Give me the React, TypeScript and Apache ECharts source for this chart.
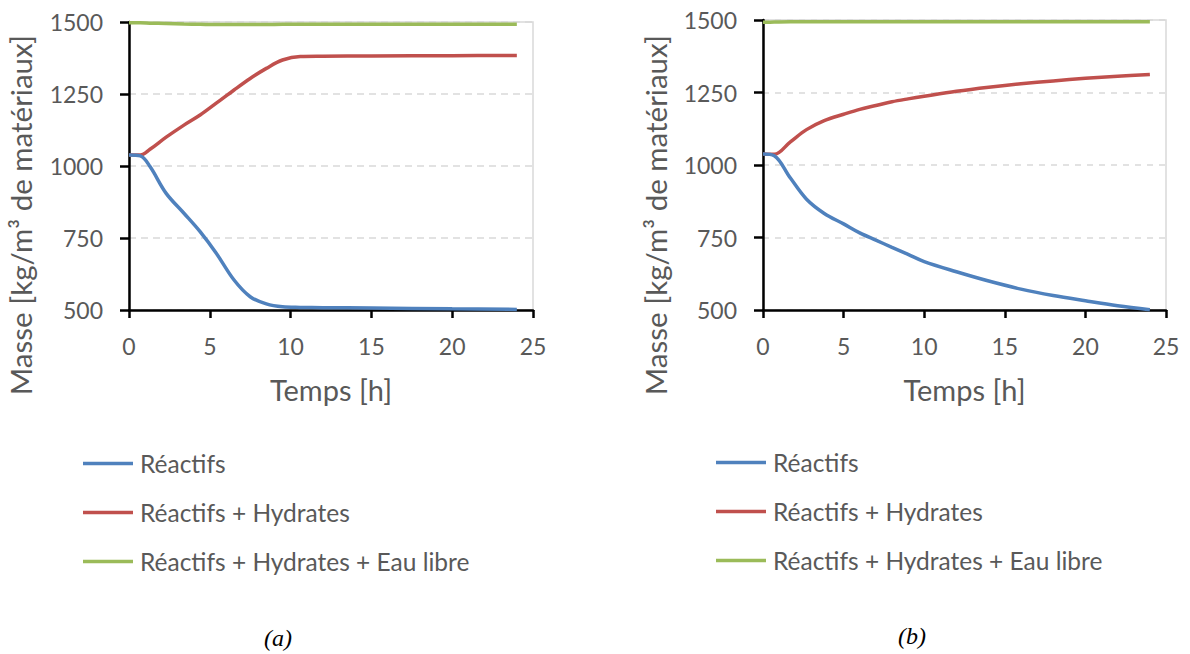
import React, { useEffect, useRef } from "react";
import * as echarts from "echarts";

// ---- Data (a) ----
const HOURS_A = [0, 0.7, 1.3, 2.3, 3.4, 4.4, 5.4, 6.5, 7.5, 8.5, 9.5, 10.6, 12, 15, 20, 24];
const REACTIFS_A = [1038, 1035, 998, 905, 836, 772, 697, 604, 546, 521, 511, 509, 508, 507, 504, 502];
const REACT_HYD_A = [1038, 1038, 1058, 1100, 1142, 1177, 1218, 1264, 1304, 1339, 1368, 1380, 1381, 1382, 1383, 1384];
const TOTAL_A = [1497, 1497, 1496, 1495, 1493, 1492, 1491, 1491, 1491, 1491, 1492, 1492, 1492, 1492, 1492, 1492];

// ---- Data (b) ----
const HOURS_B = [0, 0.7, 1.7, 2.7, 3.8, 5, 6, 7, 8, 9, 10, 12, 14, 16, 18, 20, 22, 24];
const REACTIFS_B = [1038, 1032, 955, 882, 833, 797, 766, 741, 716, 692, 667, 632, 600, 572, 550, 532, 515, 501];
const REACT_HYD_B = [1038, 1037, 1080, 1122, 1153, 1175, 1192, 1205, 1218, 1228, 1237, 1254, 1268, 1280, 1290, 1299, 1306, 1312];
const TOTAL_B = [1492, 1493, 1494, 1494, 1494, 1494, 1494, 1494, 1494, 1494, 1494, 1494, 1494, 1494, 1494, 1494, 1494, 1494];

const SERIES_NAMES = ["Réactifs", "Réactifs + Hydrates", "Réactifs + Hydrates + Eau libre"];
const COLORS = ["#4F81BD", "#C0504D", "#9BBB59"];
const Y_NAME = "Masse [kg/m³ de matériaux]";
const X_NAME = "Temps [h]";
const CAPTIONS = ["(a)", "(b)"];

const FONT = "Lato, 'Open Sans', sans-serif";
const GRAY = "#595959";

function pairs(xs: number[], ys: number[]) {
  return xs.map((x, i) => [x, ys[i]]);
}

export default function App() {
  const ref = useRef<HTMLDivElement>(null);
  useEffect(() => {
    if (!ref.current) return;
    const chart = echarts.init(ref.current, undefined, { renderer: "svg" });

    const grids = [
      { left: 129, top: 22, width: 404, height: 288 },
      { left: 763, top: 20, width: 403, height: 290 },
    ];

    const xAxis = grids.map((_, i) => ({
      type: "value",
      gridIndex: i,
      min: 0,
      max: 25,
      interval: 5,
      name: X_NAME,
      nameLocation: "middle",
      nameGap: 65,
      nameTextStyle: { fontSize: 29, color: GRAY, fontFamily: FONT },
      axisLine: { show: true, onZero: false, lineStyle: { color: "#000", width: 2.5 } },
      axisTick: { show: true, length: 8, lineStyle: { color: "#000", width: 2.5 } },
      axisLabel: { fontSize: 23, color: GRAY, fontFamily: FONT, margin: 24 },
      splitLine: { show: false },
    }));

    const yAxis = grids.map((_, i) => ({
      type: "value",
      gridIndex: i,
      min: 500,
      max: 1500,
      interval: 250,
      axisLine: { show: true, lineStyle: { color: "#000", width: 2.5 } },
      axisTick: { show: true, length: 9, lineStyle: { color: "#000", width: 2.5 } },
      axisLabel: {
        fontSize: 23,
        color: GRAY,
        fontFamily: FONT,
        margin: 26,
        formatter: (v: number) => String(v),
      },
      splitLine: {
        show: true,
        lineStyle: { color: "#d9d9d9", width: 1.5, type: i === 0 ? [7, 5] : [6, 6] },
      },
    }));

    const dataA = [REACTIFS_A, REACT_HYD_A, TOTAL_A];
    const dataB = [REACTIFS_B, REACT_HYD_B, TOTAL_B];
    const series: any[] = [];
    [
      { hours: HOURS_A, sets: dataA },
      { hours: HOURS_B, sets: dataB },
    ].forEach((panel, gi) => {
      panel.sets.forEach((ys, si) => {
        series.push({
          type: "line",
          name: SERIES_NAMES[si],
          xAxisIndex: gi,
          yAxisIndex: gi,
          data: pairs(panel.hours, ys),
          smooth: 0.35,
          showSymbol: false,
          lineStyle: { color: COLORS[si], width: 3.5 },
          itemStyle: { color: COLORS[si] },
          z: 5 - si,
        });
      });
    });

    const legendBase = {
      orient: "vertical",
      icon: "rect",
      itemWidth: 50,
      itemHeight: 3.5,
      itemGap: 24,
      data: SERIES_NAMES,
      textStyle: { fontSize: 24.5, color: GRAY, fontFamily: FONT, padding: [0, 0, 0, 2] },
    };

    const captionStyle = {
      fontSize: 24,
      fontStyle: "italic",
      fill: "#000",
      fontFamily: "'Liberation Serif', 'DejaVu Serif', serif",
      align: "center",
      verticalAlign: "middle",
    };
    const yNameStyle = {
      text: Y_NAME,
      fontSize: 29.5,
      fill: GRAY,
      fontFamily: FONT,
      align: "center",
      verticalAlign: "middle",
    };

    chart.setOption({
      animation: false,
      backgroundColor: "#fff",
      grid: grids.map((g) => ({
        ...g,
        show: true,
        borderColor: "#d9d9d9",
        borderWidth: 1.5,
        backgroundColor: "transparent",
      })),
      xAxis,
      yAxis,
      series,
      legend: [
        { ...legendBase, left: 78, top: 446 },
        { ...legendBase, left: 711, top: 445 },
      ],
      graphic: [
        { type: "text", x: 20, y: 215, rotation: Math.PI / 2, style: yNameStyle },
        { type: "text", x: 655, y: 215, rotation: Math.PI / 2, style: yNameStyle },
        { type: "text", x: 278, y: 638, style: { ...captionStyle, text: CAPTIONS[0] } },
        { type: "text", x: 912, y: 636, style: { ...captionStyle, text: CAPTIONS[1] } },
      ],
    });

    return () => chart.dispose();
  }, []);

  return (
    <div
      ref={ref}
      style={{ position: "fixed", left: 0, top: 0, width: 1190, height: 654, background: "#fff" }}
    />
  );
}
